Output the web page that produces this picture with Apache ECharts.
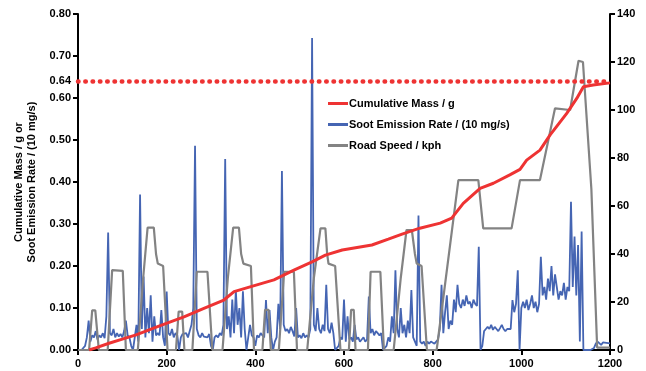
<!DOCTYPE html>
<html>
<head>
<meta charset="utf-8">
<script src="https://cdn.jsdelivr.net/npm/echarts@6/dist/echarts.min.js"></script>
<style>
  html, body { margin: 0; padding: 0; background: #fff; }
  #chart { width: 646px; height: 371px; }
</style>
</head>
<body>
<div id="chart"></div>
<script>
// 累计质量 (g), [time s, value]
const cumulativeMass = [
    [25, 0], [40, 0.005], [70, 0.016], [100, 0.026], [131, 0.036], [178, 0.055],
    [239, 0.079], [284, 0.099], [329, 0.119], [352, 0.139], [390, 0.151], [442, 0.167],
    [487, 0.19], [528, 0.21], [558, 0.226], [596, 0.238], [663, 0.25], [700, 0.264],
    [731, 0.276], [771, 0.29], [817, 0.302], [843, 0.314], [869, 0.349], [907, 0.385],
    [937, 0.397], [974, 0.417], [997, 0.43], [1012, 0.452], [1042, 0.476], [1065, 0.512],
    [1102, 0.563], [1125, 0.599], [1140, 0.627], [1162, 0.631], [1200, 0.636]
];

// 碳烟排放速率 (10 mg/s)
const sootRate = [
    [0, 0], [4, 0], [8, 0], [12, 0], [16, 0.01], [20, 0.03], [24, 0.07], [28, 0.02], [32, 0.035],
    [36, 0.03], [40, 0.045], [44, 0.025], [48, 0.035], [52, 0.03], [56, 0.04], [60, 0.028], [64, 0.08],
    [68, 0.28], [72, 0.04], [76, 0.035], [80, 0.05], [84, 0.03], [88, 0.04], [92, 0.032], [96, 0.038],
    [100, 0.03], [104, 0.045], [108, 0.07], [112, 0.035], [116, 0.03], [120, 0.01], [124, 0], [128, 0],
    [132, 0.06], [136, 0.02], [140, 0.37], [144, 0.05], [148, 0.175], [152, 0.03], [156, 0.1], [160, 0.04],
    [164, 0.13], [168, 0.02], [172, 0.08], [176, 0.035], [180, 0.04], [184, 0.035], [188, 0.095], [192, 0.03],
    [196, 0.01], [200, 0.139], [204, 0.04], [208, 0.035], [212, 0.05], [216, 0.03], [220, 0.04], [224, 0.035],
    [228, 0], [232, 0.03], [236, 0.038], [240, 0.035], [244, 0.04], [248, 0.03], [252, 0.045], [256, 0.06],
    [260, 0.1], [264, 0.486], [268, 0.05], [272, 0.035], [276, 0.03], [280, 0.04], [284, 0.032], [288, 0.035],
    [292, 0.03], [296, 0.038], [300, 0.01], [304, 0], [308, 0.03], [312, 0.035], [316, 0.03], [320, 0.04],
    [324, 0.035], [328, 0.06], [332, 0.455], [336, 0.05], [340, 0.08], [344, 0.03], [348, 0.12], [352, 0.04],
    [356, 0.143], [360, 0.06], [364, 0.1], [368, 0.03], [372, 0.14], [376, 0.05], [380, 0], [384, 0.03],
    [388, 0.06], [392, 0.035], [396, 0.03], [400, 0.01], [404, 0.035], [408, 0.03], [412, 0.04], [416, 0.035],
    [420, 0.03], [424, 0.119], [428, 0.04], [432, 0.095], [436, 0.03], [440, 0], [444, 0.02], [448, 0.03],
    [452, 0.11], [456, 0.05], [460, 0.426], [464, 0.06], [468, 0.045], [472, 0.05], [476, 0.04], [480, 0.055],
    [484, 0.045], [488, 0.032], [492, 0.1], [496, 0.03], [500, 0.035], [504, 0.028], [508, 0.04], [512, 0.03],
    [516, 0.035], [520, 0.03], [524, 0.05], [528, 0.743], [532, 0.06], [536, 0.045], [540, 0.1], [544, 0.05],
    [548, 0.04], [552, 0.06], [556, 0.045], [560, 0.155], [564, 0.05], [568, 0.04], [572, 0.065], [576, 0.04],
    [580, 0], [584, 0], [588, 0.01], [592, 0.03], [596, 0.025], [600, 0.12], [604, 0.02], [608, 0.08],
    [612, 0.025], [616, 0.03], [620, 0.02], [624, 0.06], [628, 0.025], [632, 0.03], [636, 0.02], [640, 0.025],
    [644, 0.03], [648, 0.02], [652, 0.025], [656, 0.127], [660, 0.04], [664, 0.05], [668, 0.035], [672, 0.045],
    [676, 0.04], [680, 0.035], [684, 0.04], [688, 0], [692, 0], [696, 0.01], [700, 0.03], [704, 0.02],
    [708, 0.08], [712, 0.04], [716, 0.19], [720, 0.05], [724, 0.03], [728, 0.1], [732, 0.04], [736, 0.06],
    [740, 0.03], [744, 0.07], [748, 0.04], [752, 0.143], [756, 0.03], [760, 0.02], [764, 0.01], [768, 0.32],
    [772, 0.02], [776, 0.015], [780, 0.02], [784, 0.01], [788, 0.02], [792, 0.015], [796, 0.02], [800, 0.018],
    [804, 0.015], [808, 0.02], [812, 0.025], [816, 0.05], [820, 0.155], [824, 0.04], [828, 0.09], [832, 0.13],
    [836, 0.05], [840, 0.07], [844, 0.06], [848, 0.12], [852, 0.09], [856, 0.155], [860, 0.11], [864, 0.1],
    [868, 0.12], [872, 0.105], [876, 0.13], [880, 0.11], [884, 0.115], [888, 0.1], [892, 0.12], [896, 0.11],
    [900, 0.105], [904, 0.246], [908, 0], [912, 0.01], [916, 0.045], [920, 0.05], [924, 0.055], [928, 0.05],
    [932, 0.06], [936, 0.048], [940, 0.055], [944, 0.05], [948, 0.045], [952, 0.052], [956, 0.06], [960, 0.05],
    [964, 0.045], [968, 0.05], [972, 0.048], [976, 0.05], [980, 0.119], [984, 0.09], [988, 0.11], [992, 0.19],
    [996, 0], [1000, 0.1], [1004, 0.115], [1008, 0.1], [1012, 0.12], [1016, 0.095], [1020, 0.11], [1024, 0.13],
    [1028, 0.1], [1032, 0.115], [1036, 0.09], [1040, 0.11], [1044, 0.222], [1048, 0.13], [1052, 0.15], [1056, 0.12],
    [1060, 0.17], [1064, 0.14], [1068, 0.2], [1072, 0.13], [1076, 0.18], [1080, 0.15], [1084, 0.12], [1088, 0.14],
    [1092, 0.13], [1096, 0.16], [1100, 0.12], [1104, 0.15], [1108, 0.14], [1112, 0.353], [1116, 0.15], [1120, 0.27],
    [1124, 0.13], [1128, 0.25], [1132, 0.02], [1136, 0.282], [1140, 0], [1144, 0], [1148, 0], [1152, 0],
    [1156, 0], [1160, 0], [1164, 0.005], [1168, 0.015], [1172, 0.02], [1176, 0.016], [1180, 0.012], [1184, 0.018],
    [1188, 0.015], [1192, 0.017], [1196, 0.014], [1200, 0.016]
];

// 车速 (kph)
const roadSpeed = [
    [0, 0], [25, 0], [32, 16.5], [39, 16.5], [47, 0], [67, 0], [77, 33.3], [101, 33], [108, 0],
    [135, 0], [147, 30], [157, 51], [171, 51], [176, 40], [180, 36], [192, 35], [202, 0],
    [221, 0], [227, 16], [235, 16], [240, 0], [258, 0], [268, 32.6], [292, 32.6], [303, 0],
    [326, 0], [338, 30], [350, 51], [363, 51], [368, 40], [373, 36], [390, 35], [397, 0],
    [416, 0], [422, 16.7], [430, 16.7], [435, 0], [453, 0], [465, 32.6], [487, 32.6], [494, 0],
    [517, 0], [532, 30], [547, 50.7], [558, 50.7], [562, 40], [565, 36], [580, 35], [592, 0],
    [611, 0], [616, 16.7], [622, 16.7], [626, 0], [654, 0], [660, 32.6], [682, 32.6], [690, 0],
    [712, 0], [728, 30], [741, 50], [753, 50], [760, 40], [764, 36], [775, 35], [787, 0],
    [809, 0], [858, 70.8], [903, 70.8], [914, 50.7], [978, 50.7], [997, 70.8], [1042, 70.8],
    [1076, 100.7], [1110, 100], [1129, 120.5], [1139, 120], [1158, 67], [1171, 1], [1200, 1]
];

const xTicks = { min: 0, max: 1200, interval: 200 };
const massTicks = { min: 0, max: 0.8, interval: 0.1 };
const speedTicks = { min: 0, max: 140, interval: 20 };
const targetMass = 0.64;

function drawSootChart(chartDom) {
    let myChart = echarts.getInstanceByDom(chartDom);
    if (myChart) myChart.dispose();
    myChart = echarts.init(chartDom);

    const labelStyle = {
        color: '#000',
        fontFamily: 'Liberation Sans',
        fontWeight: 'bold',
        fontSize: 11
    };
    const axisLine = { show: true, lineStyle: { color: '#000', width: 2 } };
    const axisTick = { show: true, length: 5, lineStyle: { color: '#000', width: 2 } };

    myChart.setOption({
        animation: false,
        grid: {
            left: 78,
            right: 36,
            top: 14,
            bottom: 21
        },
        legend: {
            orient: 'vertical',
            left: 323,
            top: 93,
            itemWidth: 20,
            itemHeight: 3,
            itemGap: 10,
            icon: 'rect',
            data: ['Cumulative Mass / g', 'Soot Emission Rate / (10 mg/s)', 'Road Speed / kph'],
            textStyle: { ...labelStyle, padding: [0, 0, 0, -4] }
        },
        xAxis: {
            type: 'value',
            ...xTicks,
            axisLine: axisLine,
            axisTick: axisTick,
            axisLabel: { ...labelStyle, margin: 8, formatter: (v) => String(v) },
            splitLine: { show: false }
        },
        yAxis: [{
            type: 'value',
            ...massTicks,
            name: 'Cumulative Mass / g or\nSoot Emission Rate / (10 mg/s)',
            nameLocation: 'middle',
            nameGap: 38,
            nameTextStyle: { ...labelStyle, lineHeight: 13 },
            axisLine: axisLine,
            axisTick: axisTick,
            axisLabel: {
                ...labelStyle,
                margin: 7,
                formatter: (v) => v.toFixed(2)
            },
            splitLine: { show: false }
        }, {
            type: 'value',
            ...speedTicks,
            position: 'right',
            axisLine: axisLine,
            axisTick: axisTick,
            axisLabel: { ...labelStyle, margin: 7 },
            splitLine: { show: false }
        }],
        series: [{
            name: 'Soot Emission Rate / (10 mg/s)',
            type: 'line',
            yAxisIndex: 0,
            data: sootRate,
            symbol: 'none',
            color: '#4565b3',
            lineStyle: { color: '#4565b3', width: 1.8 }
        }, {
            name: 'Road Speed / kph',
            type: 'line',
            yAxisIndex: 1,
            data: roadSpeed,
            symbol: 'none',
            color: '#838383',
            lineStyle: { color: '#838383', width: 2.2 }
        }, {
            name: 'Cumulative Mass / g',
            type: 'line',
            yAxisIndex: 0,
            data: cumulativeMass,
            symbol: 'none',
            color: '#ee3333',
            lineStyle: { color: '#ee3333', width: 3 },
            markLine: {
                silent: true,
                symbol: 'none',
                lineStyle: {
                    color: '#ee3333',
                    width: 4.5,
                    type: [0.5, 6.8],
                    cap: 'round'
                },
                label: {
                    show: true,
                    position: 'start',
                    distance: 7,
                    formatter: '0.64',
                    ...labelStyle
                },
                data: [{ yAxis: targetMass }]
            }
        }]
    });

    window.onresize = function () {
        myChart.resize();
    };
}

drawSootChart(document.getElementById('chart'));
</script>
</body>
</html>
